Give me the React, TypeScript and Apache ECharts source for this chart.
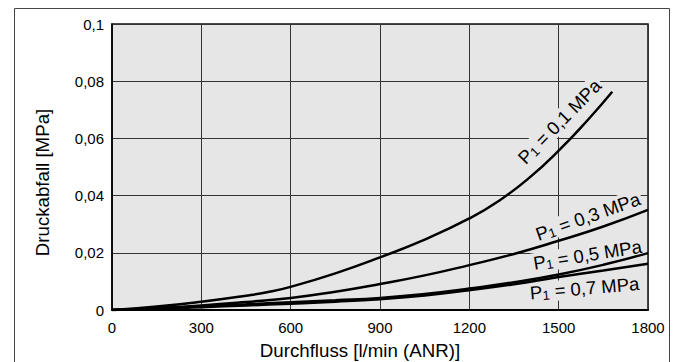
import React, { useEffect, useRef } from "react";
import * as echarts from "echarts";

// Flow [l/min (ANR)] and pressure drop [MPa]
const flowsP01 = [0, 150, 300, 450, 520, 600, 750, 900, 1050, 1200, 1300, 1400, 1500, 1600, 1680];
const dropP01 = [0, 0.0012, 0.0029, 0.005, 0.0062, 0.0081, 0.0128, 0.0184, 0.0246, 0.032, 0.0382, 0.0461, 0.0557, 0.0667, 0.0763];

const flows = [0, 150, 300, 450, 600, 750, 900, 1050, 1200, 1350, 1500, 1650, 1800];
const dropP03 = [0, 0.0007, 0.0016, 0.0028, 0.0042, 0.0064, 0.0091, 0.0121, 0.0157, 0.0196, 0.0242, 0.0292, 0.035];
const dropP05 = [0, 0.0005, 0.0013, 0.002, 0.0027, 0.0034, 0.0042, 0.0056, 0.0075, 0.0097, 0.0124, 0.0158, 0.0199];
const dropP07 = [0, 0.0004, 0.001, 0.0016, 0.0022, 0.0029, 0.0038, 0.0051, 0.0069, 0.009, 0.0115, 0.0138, 0.0162];

const pressureLabels = ["0,1", "0,3", "0,5", "0,7"];
const yTickLabels = ["0", "0,02", "0,04", "0,06", "0,08", "0,1"];
const xTitle = "Durchfluss [l/min (ANR)]";
const yTitle = "Druckabfall [MPa]";

// annotation anchors in data space, and their angles (degrees)
const labelAnchorFlow = [1503, 1598, 1597, 1587];
const labelAnchorDrop = [0.0659, 0.0327, 0.0193, 0.0076];
const labelAngles = [45.5, 19.5, 9, 5];

const FONT = "'Liberation Sans', Arial, Helvetica, sans-serif";

function zip(xs: number[], ys: number[]) {
  return xs.map((x, i) => [x, ys[i]]);
}

export default function App() {
  const ref = useRef<HTMLDivElement>(null);

  useEffect(() => {
    if (!ref.current) return;
    const chart = echarts.init(ref.current, undefined, { renderer: "svg" });
    const seriesData = [
      zip(flowsP01, dropP01),
      zip(flows, dropP03),
      zip(flows, dropP05),
      zip(flows, dropP07),
    ];
    chart.setOption({
      animation: false,
      backgroundColor: "#ffffff",
      textStyle: { fontFamily: FONT },
      grid: {
        left: 112,
        right: 30,
        top: 24,
        bottom: 52,
        show: true,
        backgroundColor: "#e6e6e6",
        borderColor: "#111",
        borderWidth: 1.5,
      },
      xAxis: {
        type: "value",
        min: 0,
        max: 1800,
        interval: 300,
        axisLine: { show: true, onZero: false, lineStyle: { color: "#000", width: 2 } },
        axisTick: { show: false },
        axisLabel: {
          color: "#000",
          fontSize: 15,
          fontFamily: FONT,
          margin: 10,
          formatter: (v: number) => String(v),
        },
        splitLine: { show: true, lineStyle: { color: "#333", width: 1 } },
      },
      yAxis: {
        type: "value",
        min: 0,
        max: 0.1,
        interval: 0.02,
        axisLine: { show: true, lineStyle: { color: "#000", width: 1.5 } },
        axisTick: { show: false },
        axisLabel: {
          color: "#000",
          fontSize: 15,
          fontFamily: FONT,
          margin: 8,
          formatter: (v: number) => yTickLabels[Math.round(v / 0.02)] ?? "",
        },
        splitLine: { show: true, lineStyle: { color: "#333", width: 1 } },
      },
      series: seriesData.map((d, i) => ({
        type: "line",
        name: pressureLabels[i],
        data: d,
        smooth: 0.5,
        showSymbol: false,
        symbol: "none",
        lineStyle: { color: "#000", width: 2.5 },
        z: 5,
      })),
    });

    const labelEls = pressureLabels.map((p, i) => {
      const pt = chart.convertToPixel({ gridIndex: 0 }, [labelAnchorFlow[i], labelAnchorDrop[i]]) as number[];
      return {
        type: "text",
        x: pt[0],
        y: pt[1],
        rotation: (labelAngles[i] * Math.PI) / 180,
        z: 2,
        style: {
          text: `{a|P}{s|1}{a| = ${p} MPa}`,
          font: `18.5px ${FONT}`,
          align: "center",
          verticalAlign: "middle",
          backgroundColor: "#e6e6e6",
          padding: [0, 2],
          rich: {
            a: { fontSize: 18.5, fontFamily: FONT, fill: "#000", lineHeight: 20 },
            s: { fontSize: 13, fontFamily: FONT, fill: "#000", lineHeight: 14, verticalAlign: "bottom" },
          },
        },
      };
    });

    chart.setOption({
      graphic: [
        {
          type: "rect",
          z: -1,
          shape: { x: 14.5, y: 8.5, width: 655, height: 400 },
          style: { fill: "none", stroke: "#444", lineWidth: 1 },
        },
        {
          type: "text",
          x: 360,
          y: 350,
          style: {
            text: xTitle,
            font: `18.7px ${FONT}`,
            fill: "#000",
            align: "center",
            verticalAlign: "middle",
          },
        },
        {
          type: "text",
          x: 42,
          y: 182.5,
          rotation: Math.PI / 2,
          style: {
            text: yTitle,
            font: `18.7px ${FONT}`,
            fill: "#000",
            align: "center",
            verticalAlign: "middle",
          },
        },
        ...labelEls,
      ],
    });

    return () => chart.dispose();
  }, []);

  return (
    <div
      ref={ref}
      style={{ position: "fixed", left: 0, top: 0, width: 678, height: 362, background: "#fff" }}
    />
  );
}
